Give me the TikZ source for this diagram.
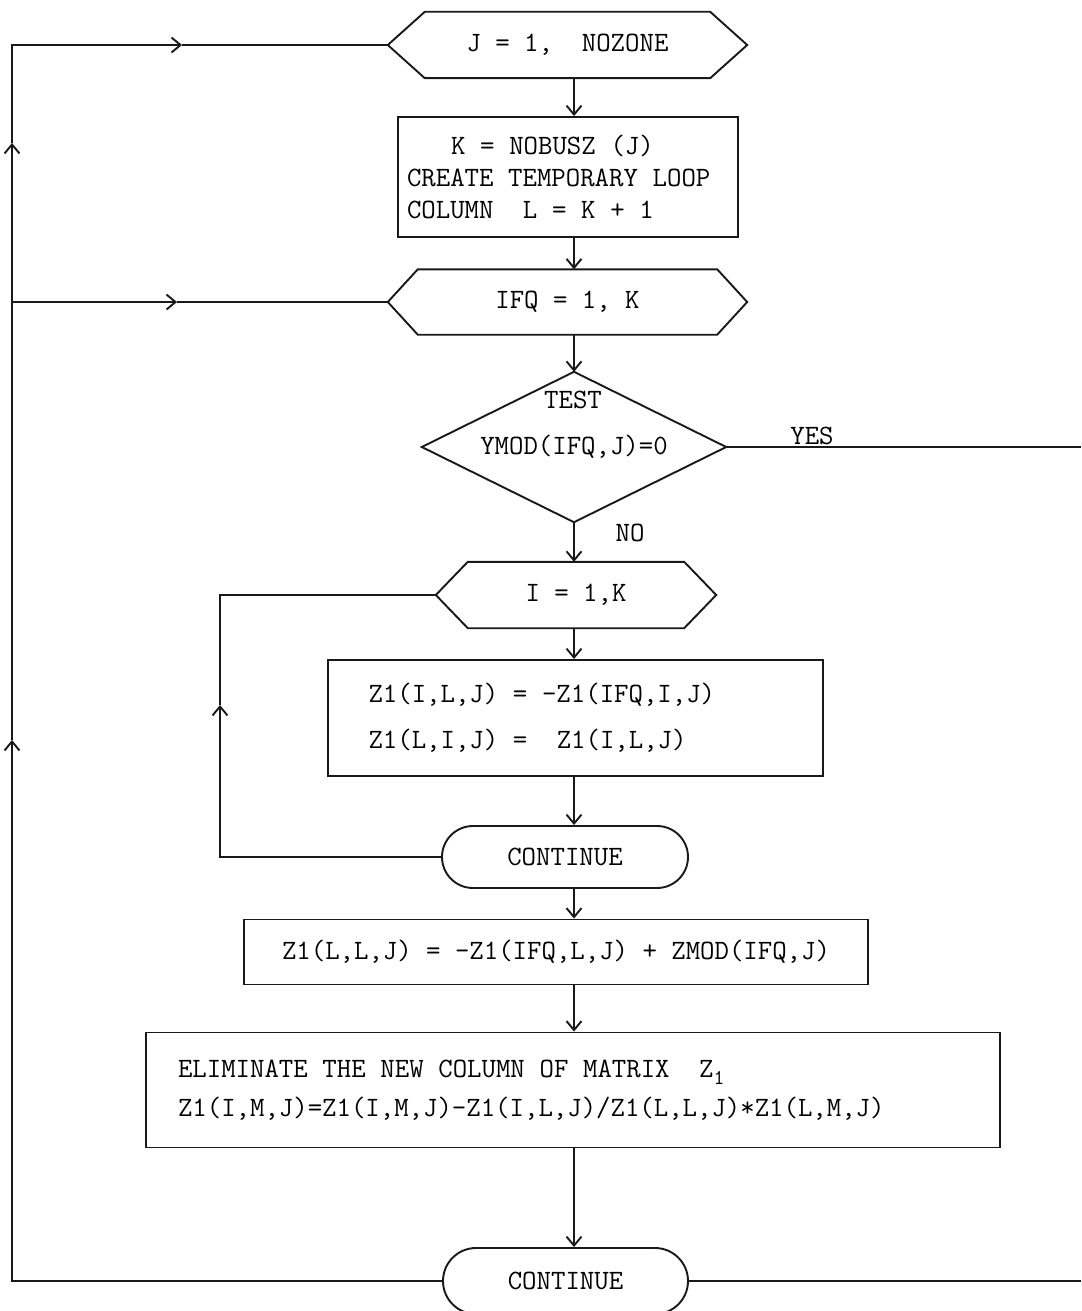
\documentclass[tikz,border=0pt]{standalone}
\usetikzlibrary{arrows.meta,shapes.misc,calc}
\newcommand\drawhex[2]{\draw[ln] (#1.west) -- ([xshift=#2]#1.north west) -- ([xshift=-#2]#1.north east) -- (#1.east) -- ([xshift=-#2]#1.south east) -- ([xshift=#2]#1.south west) -- cycle;}
\newcommand\flowfont{\fontsize{28}{32}\selectfont\ttfamily}
\newcommand\fixsp{\spaceskip 0.525em\xspaceskip 0.525em\relax}
\begin{document}
\begin{tikzpicture}[x=1pt,y=-1pt,
  every node/.style={font=\flowfont},
  ln/.style={line width=1.9pt, line join=miter, draw=black!90},
  arr/.style={ln, -{Straight Barb[length=9pt,width=15pt]}},
  box/.style={draw, ln, rectangle, inner sep=0pt},
  hexbox/.style={rectangle, inner sep=0pt},
  term/.style={draw, ln, rounded rectangle, inner sep=0pt}]
\useasboundingbox[fill=white] (0,0) rectangle (1081,1311);
% guide coordinates
\coordinate (S) at (574,0);
\coordinate (L) at (12,0);
\coordinate (R) at (1081,0);
\coordinate (IL) at (220,0);
\coordinate (IA) at (220,705);
\coordinate (A1) at (12,740);
\coordinate (A2) at (12,143);
\coordinate (A3x) at (182,0);
\coordinate (A4x) at (177,0);
% nodes
\node[hexbox, minimum width=359pt, minimum height=66pt] (h1) at (567.5,45) {J = 1,~~NOZONE};
\drawhex{h1}{37pt}
\node[box, minimum width=340pt, minimum height=120pt, text width=322pt, align=left] (b1) at (568,177)
  {\fixsp~~~K = NOBUSZ (J)\\\fixsp CREATE TEMPORARY LOOP\\\fixsp COLUMN~~L = K + 1};
\node[hexbox, minimum width=359pt, minimum height=65pt] (h2) at (567.5,302) {IFQ = 1, K};
\drawhex{h2}{30pt}
\node[hexbox, minimum width=304pt, minimum height=150pt] (d) at (574,447) {YMOD(IFQ,J)=0};
\draw[ln] (d.north) -- (d.east) -- (d.south) -- (d.west) -- cycle;
\node (dtest) at (573,400) {TEST};
\node (yes) at (812,436) {YES};
\node (no) at (630,533) {NO};
\node[hexbox, minimum width=280pt, minimum height=66pt] (h3) at (576,595) {I = 1,K};
\drawhex{h3}{32pt}
\node[box, minimum width=495pt, minimum height=116pt, text width=414pt, align=left] (b2) at (575.5,718)
  {\fixsp Z1(I,L,J) = -Z1(IFQ,I,J)\\[14pt]\fixsp Z1(L,I,J) =~~Z1(I,L,J)};
\node[term, minimum width=246pt, minimum height=62pt] (c1) at (565,857) {CONTINUE};
\node[box, minimum width=624pt, minimum height=65pt] (b3) at (556,952)
  {Z1(L,L,J) = -Z1(IFQ,L,J) + ZMOD(IFQ,J)};
\node[box, minimum width=854pt, minimum height=115pt, text width=790pt, align=left] (b4) at (573,1090)
  {\fixsp ELIMINATE THE NEW COLUMN OF MATRIX~~Z\raisebox{-7pt}{\fontsize{21}{21}\selectfont 1}\\[7pt]\fixsp Z1(I,M,J)=Z1(I,M,J)-Z1(I,L,J)/Z1(L,L,J)*Z1(L,M,J)};
\node[term, minimum width=245pt, minimum height=66pt] (c2) at (565.5,1281) {CONTINUE};
% main flow
\draw[arr] (h1.south -| S) -- (b1.north -| S);
\draw[arr] (b1.south -| S) -- (h2.north -| S);
\draw[arr] (h2.south -| S) -- (d.north);
\draw[arr] (d.south) -- (h3.north -| S);
\draw[arr] (h3.south -| S) -- (b2.north -| S);
\draw[arr] (b2.south -| S) -- (c1.north -| S);
\draw[arr] (c1.south -| S) -- (b3.north -| S);
\draw[arr] (b3.south -| S) -- (b4.north -| S);
\draw[arr] (b4.south -| S) -- (c2.north -| S);
% YES branch and right exit
\draw[ln] (d.east) -- (d.east -| R);
\draw[ln] (c2.east) -- (c2.east -| R);
% inner loop
\draw[arr] (c1.west) -- (c1.west -| IL) -- (IA);
\draw[ln] (IA) -- (h3.west -| IL) -- (h3.west);
% outer loop
\draw[arr] (c2.west) -- (c2.west -| L) -- (A1);
\draw[arr] (A1) -- (A2);
\draw[arr] (A2) -- (h1.west -| L) -- (h1.west -| A3x);
\draw[ln] (h1.west -| A3x) -- (h1.west);
\draw[arr] (h2.west -| L) -- (h2.west -| A4x);
\draw[ln] (h2.west -| A4x) -- (h2.west);
\end{tikzpicture}
\end{document}
